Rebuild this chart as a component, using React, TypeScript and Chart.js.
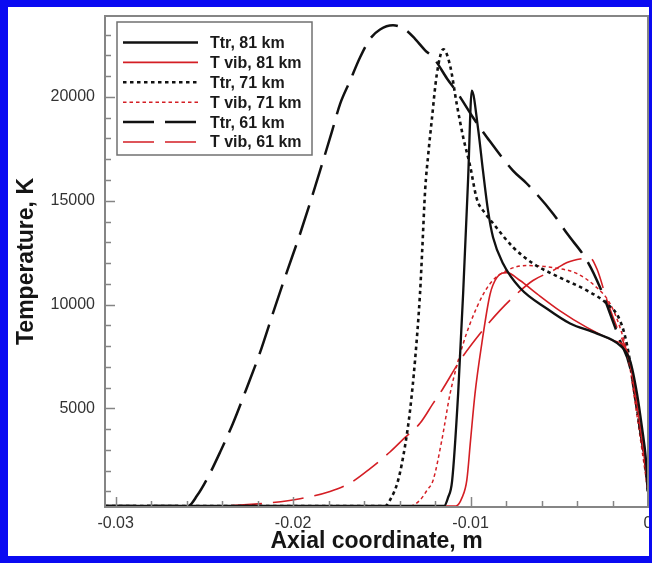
import React, { useEffect, useRef } from 'react';
import { Chart, registerables } from 'chart.js';

Chart.register(...registerables);

// ---------- axis ranges & ticks ----------
const X_MIN = -0.0306;
const X_MAX = 0;
const Y_MIN = 250;
const Y_MAX = 23900;
const xMajorTicks = [-0.03, -0.02, -0.01, 0];
const yMajorTicks = [5000, 10000, 15000, 20000];
const xMinorStep = 0.002;
const yMinorStep = 1000;

const xTitle = 'Axial coordinate, m';
const yTitle = 'Temperature, K';

const seriesLabels = [
  'Ttr, 81 km',
  'T vib, 81 km',
  'Ttr, 71 km',
  'T vib, 71 km',
  'Ttr, 61 km',
  'T vib, 61 km',
];

// ---------- data: [x (m), T (K)] ----------
const ttr81: [number, number][] = [
  [-0.0306, 300], [-0.01149, 300], [-0.01127, 700], [-0.01104, 1500], [-0.0107, 5700],
  [-0.01042, 10500], [-0.01014, 16000], [-0.00993, 20300], [-0.00958, 18500], [-0.0093, 16450],
  [-0.00901, 14500], [-0.00873, 13230], [-0.00817, 11980], [-0.00721, 10800], [-0.00569, 9800],
  [-0.00439, 9090], [-0.00287, 8600], [-0.00158, 8030], [-0.00101, 7300], [-0.00062, 5720],
  [-0.00034, 4090], [-0.00011, 2500], [0, 1000],
];

const tvib81: [number, number][] = [
  [-0.0306, 300], [-0.01082, 300], [-0.01048, 700], [-0.01021, 1540], [-0.01, 3460],
  [-0.00975, 5700], [-0.00937, 8100], [-0.0089, 10500], [-0.00852, 11300], [-0.00796, 11540],
  [-0.00721, 11160], [-0.00627, 10530], [-0.00496, 9700], [-0.00345, 8900], [-0.00197, 8270],
  [-0.0012, 7800], [-0.00068, 5500], [-0.00034, 3500], [0, 1200],
];

const ttr71: [number, number][] = [
  [-0.0306, 300], [-0.01482, 300], [-0.01454, 580], [-0.01408, 1540], [-0.01369, 3200],
  [-0.01341, 4900], [-0.01313, 7300], [-0.01285, 10500], [-0.01273, 12500], [-0.01256, 15500],
  [-0.01238, 17270], [-0.01219, 18850], [-0.0119, 21100], [-0.01153, 22300], [-0.01115, 21500],
  [-0.01078, 19670], [-0.01041, 18040], [-0.01003, 16700], [-0.00965, 15100], [-0.00918, 14400],
  [-0.00872, 13900], [-0.00759, 12750], [-0.00648, 11980], [-0.00496, 11300], [-0.00345, 10680],
  [-0.00233, 10050], [-0.00158, 9240], [-0.0012, 8130], [-0.00079, 6000], [-0.00045, 4000],
  [-0.00017, 2500], [0, 1000],
];

const tvib71: [number, number][] = [
  [-0.0306, 300], [-0.01341, 300], [-0.01285, 580], [-0.01245, 1060], [-0.01211, 1540],
  [-0.01162, 3460], [-0.01115, 5720], [-0.01041, 8130], [-0.00965, 9860], [-0.0089, 11010],
  [-0.00796, 11640], [-0.00683, 11880], [-0.00535, 11780], [-0.00402, 11500], [-0.00289, 10820],
  [-0.00214, 10050], [-0.00158, 8900], [-0.00113, 7500], [-0.00068, 5000], [-0.00034, 3000],
  [0, 1000],
];

const ttr61: [number, number][] = [
  [-0.0306, 300], [-0.02592, 300], [-0.02541, 800], [-0.02479, 1700], [-0.02411, 2900],
  [-0.02338, 4300], [-0.02265, 5900], [-0.02186, 7700], [-0.02113, 9600], [-0.02034, 11600],
  [-0.01961, 13400], [-0.01848, 16450], [-0.0178, 18370], [-0.01735, 19670], [-0.01679, 20780],
  [-0.01623, 21900], [-0.01566, 22800], [-0.0151, 23250], [-0.01437, 23450], [-0.01369, 23250],
  [-0.01313, 22800], [-0.01256, 22250], [-0.0121, 21900], [-0.01132, 20880], [-0.01076, 20220],
  [-0.00986, 19010], [-0.00907, 18050], [-0.00761, 16450], [-0.00682, 15820], [-0.00535, 14380],
  [-0.00456, 13420], [-0.00344, 12120], [-0.0027, 10820], [-0.00214, 9570], [-0.00158, 8270],
  [-0.00101, 6970], [-0.00045, 4000], [-0.00011, 2000], [0, 1000],
];

const tvib61: [number, number][] = [
  [-0.0306, 300], [-0.02524, 300], [-0.02299, 340], [-0.0213, 450], [-0.01961, 650],
  [-0.01792, 1000], [-0.01679, 1400], [-0.01566, 2100], [-0.01454, 2900], [-0.01369, 3600],
  [-0.01285, 4280], [-0.01211, 5240], [-0.01155, 5960], [-0.01059, 7310], [-0.00946, 8610],
  [-0.00834, 9720], [-0.00738, 10530], [-0.00648, 11160], [-0.00535, 11640], [-0.00456, 12030],
  [-0.00366, 12220], [-0.00327, 12250], [-0.00287, 11700], [-0.00231, 10200], [-0.00175, 8900],
  [-0.00118, 7650], [-0.00062, 5000], [-0.00028, 3000], [0, 1000],
];

const seriesData = [ttr81, tvib81, ttr71, tvib71, ttr61, tvib61];

// ---------- styles ----------
const BLACK = '#111111';
const RED = 'rgb(212,30,36)';
const AXIS_GRAY = '#858585';
const FONT = '"Liberation Sans", Arial, Helvetica, sans-serif';

const seriesStyle = [
  { color: BLACK, width: 2.3, dash: [] as number[] },
  { color: RED, width: 1.6, dash: [] as number[] },
  { color: BLACK, width: 2.6, dash: [3.5, 3.5] },
  { color: RED, width: 1.5, dash: [3.5, 3] },
  { color: BLACK, width: 2.5, dash: [31, 11] },
  { color: RED, width: 1.6, dash: [31, 11] },
];

const frameAndTicks = {
  id: 'frameAndTicks',
  afterDatasetsDraw(chart: any) {
    const { ctx, chartArea: a, scales } = chart;
    const xs = scales.x;
    const ys = scales.y;
    ctx.save();
    ctx.strokeStyle = AXIS_GRAY;
    ctx.lineWidth = 1.5;
    // x ticks (inward, bottom)
    for (let v = X_MAX; v >= X_MIN - 1e-9; v -= xMinorStep) {
      const val = Math.round(v * 1e6) / 1e6;
      const major = xMajorTicks.some((t) => Math.abs(t - val) < 1e-7);
      const px = Math.round(xs.getPixelForValue(val)) + 0.5;
      ctx.beginPath();
      ctx.moveTo(px, a.bottom);
      ctx.lineTo(px, a.bottom - (major ? 10 : 6));
      ctx.stroke();
    }
    // y ticks (inward, left)
    for (let v = yMinorStep; v <= Y_MAX; v += yMinorStep) {
      const major = yMajorTicks.includes(v);
      const py = Math.round(ys.getPixelForValue(v)) + 0.5;
      ctx.beginPath();
      ctx.moveTo(a.left, py);
      ctx.lineTo(a.left + (major ? 10 : 6), py);
      ctx.stroke();
    }
    ctx.lineWidth = 2;
    ctx.strokeRect(a.left, a.top, a.right - a.left, a.bottom - a.top);
    ctx.restore();
  },
};

const boxLegend = {
  id: 'boxLegend',
  afterDraw(chart: any) {
    const { ctx, chartArea: a } = chart;
    const bx = a.left + 12;
    const by = a.top + 6;
    const bw = 195;
    const bh = 133;
    ctx.save();
    ctx.fillStyle = '#ffffff';
    ctx.fillRect(bx, by, bw, bh);
    ctx.strokeStyle = '#707070';
    ctx.lineWidth = 1.5;
    ctx.strokeRect(bx, by, bw, bh);
    chart.data.datasets.forEach((ds: any, i: number) => {
      const y = by + 20.5 + i * 19.9;
      ctx.beginPath();
      ctx.setLineDash(ds.borderDash || []);
      ctx.strokeStyle = ds.borderColor;
      ctx.lineWidth = ds.borderWidth;
      ctx.moveTo(bx + 6, y);
      ctx.lineTo(bx + 81, y);
      ctx.stroke();
      ctx.setLineDash([]);
      ctx.fillStyle = '#1a1a1a';
      ctx.font = `bold 16px ${FONT}`;
      ctx.textBaseline = 'middle';
      ctx.textAlign = 'left';
      ctx.fillText(ds.label, bx + 93, y + 1);
    });
    ctx.restore();
  },
};

export default function App() {
  const ref = useRef<HTMLCanvasElement>(null);

  useEffect(() => {
    if (!ref.current) return;
    const chart = new Chart(ref.current, {
      type: 'line',
      data: {
        datasets: seriesData.map((d, i) => ({
          label: seriesLabels[i],
          data: d.map(([x, y]) => ({ x, y })),
          borderColor: seriesStyle[i].color,
          borderWidth: seriesStyle[i].width,
          borderDash: seriesStyle[i].dash,
          pointRadius: 0,
          fill: false,
          cubicInterpolationMode: 'monotone' as const,
        })),
      },
      options: {
        animation: false,
        responsive: false,
        devicePixelRatio: 1,
        layout: { padding: { top: 9, right: 1, left: 0, bottom: 0 } },
        plugins: { legend: { display: false }, tooltip: { enabled: false } },
        scales: {
          x: {
            type: 'linear',
            min: X_MIN,
            max: X_MAX,
            grid: { display: false, drawTicks: false },
            border: { display: false },
            afterBuildTicks: (s: any) => {
              s.ticks = xMajorTicks.map((v) => ({ value: v }));
            },
            afterFit: (s: any) => {
              s.height = 49;
              s.paddingLeft = 0;
              s.paddingRight = 0;
            },
            ticks: {
              padding: 7,
              color: '#333333',
              maxRotation: 0,
              autoSkip: false,
              font: { size: 16, family: FONT },
              callback: (v: any) => (Number(v) === 0 ? '0' : Number(v).toFixed(2)),
            },
            title: {
              display: true,
              text: xTitle,
              color: '#151515',
              font: { size: 23, weight: 'bold', family: FONT },
              padding: { top: 0, bottom: 1 },
            },
          },
          y: {
            type: 'linear',
            min: Y_MIN,
            max: Y_MAX,
            grid: { display: false, drawTicks: false },
            border: { display: false },
            afterBuildTicks: (s: any) => {
              s.ticks = yMajorTicks.map((v) => ({ value: v }));
            },
            afterFit: (s: any) => {
              s.width = 97;
              s.paddingTop = 0;
              s.paddingBottom = 0;
            },
            ticks: {
              padding: 10,
              color: '#333333',
              autoSkip: false,
              font: { size: 16, family: FONT },
              callback: (v: any) => String(v),
            },
            title: {
              display: true,
              text: yTitle,
              color: '#151515',
              font: { size: 23, weight: 'bold', family: FONT },
              padding: { top: 5, bottom: 0 },
            },
          },
        },
      },
      plugins: [frameAndTicks, boxLegend],
    } as any);
    return () => chart.destroy();
  }, []);

  return (
    <div
      style={{
        position: 'absolute',
        left: 0,
        top: 0,
        width: 652,
        height: 563,
        boxSizing: 'border-box',
        borderStyle: 'solid',
        borderColor: '#0a0af2',
        borderWidth: '7px 3px 7px 8px',
        background: '#ffffff',
      }}
    >
      <canvas ref={ref} width={641} height={549} style={{ display: 'block', width: 641, height: 549 }} />
    </div>
  );
}
